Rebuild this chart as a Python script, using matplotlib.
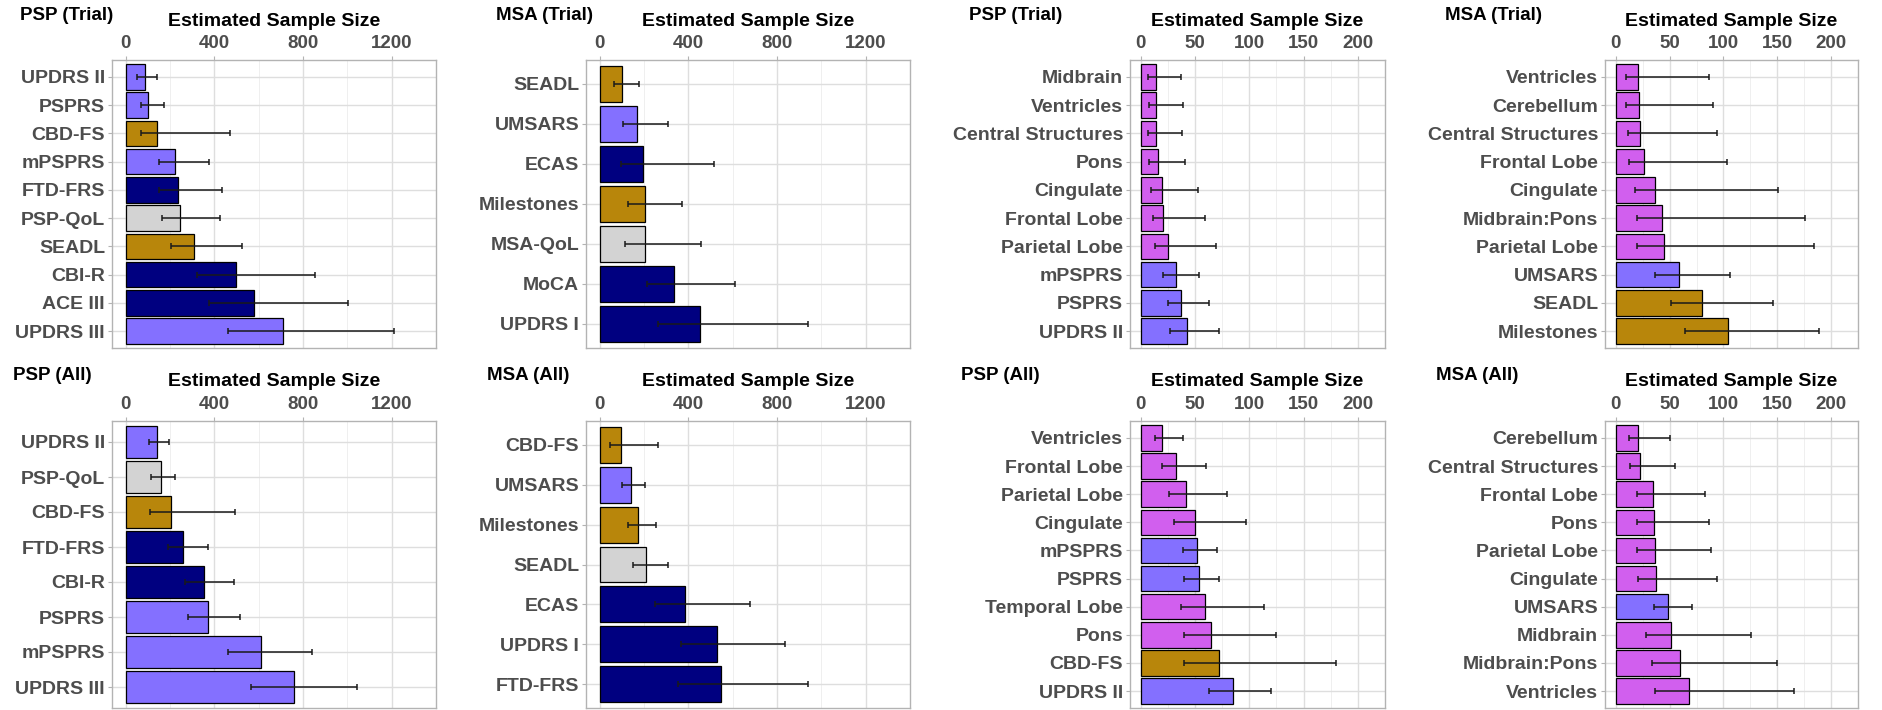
import matplotlib
matplotlib.use("Agg")
import matplotlib.pyplot as plt
import numpy as np

plt.rcParams["font.family"] = ["Liberation Sans", "DejaVu Sans"]
plt.rcParams["font.weight"] = "bold"

W, H = 1883, 710

COLORS = {
    "motor": "#8470FF",
    "cog": "#000080",
    "func": "#B8860B",
    "qol": "#D3D3D3",
    "mri": "#D15FEE",
}

# ---- PSP (Trial), clinical scales ----
psp_trial_labels = ["UPDRS II", "PSPRS", "CBD-FS", "mPSPRS", "FTD-FRS",
                    "PSP-QoL", "SEADL", "CBI-R", "ACE III", "UPDRS III"]
psp_trial_groups = ["motor", "motor", "func", "motor", "cog",
                    "qol", "func", "cog", "cog", "motor"]
psp_trial_n = [85, 100, 141, 220, 237, 246, 308, 496, 579, 708]
psp_trial_lo = [52, 69, 69, 148, 151, 161, 203, 321, 377, 463]
psp_trial_hi = [141, 172, 468, 376, 432, 423, 525, 855, 1003, 1211]

# ---- MSA (Trial), clinical scales ----
msa_trial_labels = ["SEADL", "UMSARS", "ECAS", "Milestones", "MSA-QoL", "MoCA", "UPDRS I"]
msa_trial_groups = ["func", "motor", "cog", "func", "qol", "cog", "cog"]
msa_trial_n = [100, 168, 193, 204, 204, 334, 454]
msa_trial_lo = [65, 106, 97, 127, 114, 213, 263]
msa_trial_hi = [176, 306, 515, 370, 458, 608, 939]

# ---- PSP (Trial), imaging + scales ----
psp_trial_mri_labels = ["Midbrain", "Ventricles", "Central Structures", "Pons", "Cingulate",
                        "Frontal Lobe", "Parietal Lobe", "mPSPRS", "PSPRS", "UPDRS II"]
psp_trial_mri_groups = ["mri", "mri", "mri", "mri", "mri", "mri", "mri",
                        "motor", "motor", "motor"]
psp_trial_mri_n = [14.4, 14.4, 14.4, 15.6, 19.3, 20.5, 24.8, 32.3, 36.6, 42.1]
psp_trial_mri_lo = [6.6, 7.5, 6.6, 7.8, 9.8, 11.0, 13.3, 20.7, 24.8, 26.5]
psp_trial_mri_hi = [36.6, 38.6, 37.8, 40.9, 52.4, 58.8, 69.7, 53.9, 63.1, 71.8]

# ---- MSA (Trial), imaging + scales ----
msa_trial_mri_labels = ["Ventricles", "Cerebellum", "Central Structures", "Frontal Lobe",
                        "Cingulate", "Midbrain:Pons", "Parietal Lobe", "UMSARS",
                        "SEADL", "Milestones"]
msa_trial_mri_groups = ["mri", "mri", "mri", "mri", "mri", "mri", "mri",
                        "motor", "func", "func"]
msa_trial_mri_n = [20.5, 21.7, 22.8, 26.3, 36.4, 43.1, 45.1, 59.0, 80.3, 103.8]
msa_trial_mri_lo = [9.8, 9.8, 11.0, 12.1, 17.6, 19.4, 19.4, 36.4, 51.4, 64.2]
msa_trial_mri_hi = [86.7, 89.9, 94.2, 103.5, 150.6, 176.0, 184.4, 106.0, 146.5, 188.7]

# ---- PSP (All), clinical scales ----
psp_all_labels = ["UPDRS II", "PSP-QoL", "CBD-FS", "FTD-FRS", "CBI-R",
                  "PSPRS", "mPSPRS", "UPDRS III"]
psp_all_groups = ["motor", "qol", "func", "cog", "cog", "motor", "motor", "motor"]
psp_all_n = [142, 158, 204, 258, 351, 370, 610, 759]
psp_all_lo = [106, 115, 111, 192, 265, 282, 459, 566]
psp_all_hi = [197, 220, 494, 370, 489, 517, 842, 1045]

# ---- MSA (All), clinical scales ----
msa_all_labels = ["CBD-FS", "UMSARS", "Milestones", "SEADL", "ECAS", "UPDRS I", "FTD-FRS"]
msa_all_groups = ["func", "motor", "func", "qol", "cog", "cog", "cog"]
msa_all_n = [94, 141, 173, 208, 386, 531, 546]
msa_all_lo = [48, 100, 127, 151, 251, 368, 352]
msa_all_hi = [261, 204, 255, 306, 680, 837, 939]

# ---- PSP (All), imaging + scales ----
psp_all_mri_labels = ["Ventricles", "Frontal Lobe", "Parietal Lobe", "Cingulate", "mPSPRS",
                      "PSPRS", "Temporal Lobe", "Pons", "CBD-FS", "UPDRS II"]
psp_all_mri_groups = ["mri", "mri", "mri", "mri", "motor", "motor", "mri", "mri",
                      "func", "motor"]
psp_all_mri_n = [19.3, 32.3, 41.8, 50.1, 51.3, 53.3, 58.8, 65.1, 72.3, 85.3]
psp_all_mri_lo = [13.3, 19.9, 25.6, 30.8, 38.6, 39.5, 36.6, 39.5, 39.5, 63.1]
psp_all_mri_hi = [38.6, 59.7, 79.8, 96.8, 70.3, 72.3, 113.8, 124.5, 179.5, 119.9]

# ---- MSA (All), imaging + scales ----
msa_all_mri_labels = ["Cerebellum", "Central Structures", "Frontal Lobe", "Pons",
                      "Parietal Lobe", "Cingulate", "UMSARS", "Midbrain",
                      "Midbrain:Pons", "Ventricles"]
msa_all_mri_groups = ["mri", "mri", "mri", "mri", "mri", "mri", "motor", "mri", "mri", "mri"]
msa_all_mri_n = [20.5, 22.5, 34.4, 35.5, 36.4, 37.6, 48.3, 51.4, 59.8, 67.6]
msa_all_mri_lo = [12.1, 13.3, 19.4, 19.4, 19.4, 20.5, 35.3, 27.7, 33.2, 36.4]
msa_all_mri_hi = [50.3, 54.6, 83.2, 86.4, 88.7, 94.2, 70.5, 126.0, 149.4, 165.6]

clin_ticks = [0, 400, 800, 1200]
mri_ticks = [0, 50, 100, 150, 200]


def draw_panel(rect_px, title, title_x, labels, groups, n, lo, hi, ticks, xmax):
    left, top, right, bottom = rect_px
    ax = plt.gcf().add_axes([left / W, 1 - bottom / H, (right - left) / W, (bottom - top) / H])
    k = len(labels)
    y = np.arange(k)[::-1]
    cols = [COLORS[g] for g in groups]
    ax.set_axisbelow(True)
    ax.barh(y, n, height=0.9, color=cols, edgecolor="black", linewidth=0.9, zorder=2)
    n = np.array(n)
    xerr = [n - np.array(lo), np.array(hi) - n]
    ax.errorbar(n, y, xerr=xerr, fmt="none", ecolor="#1a1a1a", elinewidth=1.1,
                capsize=2.5, capthick=1.1, zorder=3)

    pad = 0.05 * xmax
    ax.set_xlim(-pad, xmax + pad)
    ax.set_ylim(-0.6, k - 0.4)
    ax.xaxis.tick_top()
    ax.xaxis.set_label_position("top")
    ax.set_xticks(ticks)
    step = ticks[1] - ticks[0]
    ax.set_xticks([t + step / 2 for t in ticks[:-1]] + [ticks[-1] + step / 2], minor=True)
    ax.set_yticks(y)
    ax.set_yticklabels(labels)
    ax.grid(which="major", color="#DEDEDE", linewidth=1.0)
    ax.grid(which="minor", axis="x", color="#EDEDED", linewidth=0.6)
    ax.tick_params(axis="both", which="major", length=3, width=0.8, color="#B3B3B3",
                   labelcolor="#4D4D4D", pad=2)
    ax.tick_params(axis="y", which="major", labelsize=14)
    ax.tick_params(axis="x", which="major", labelsize=13.5, pad=3)
    ax.tick_params(which="minor", length=0)
    for lab in ax.get_xticklabels() + ax.get_yticklabels():
        lab.set_fontweight("bold")
    for s in ax.spines.values():
        s.set_color("#B3B3B3")
        s.set_linewidth(1.0)

    cx = (left + right) / 2
    plt.gcf().text(cx / W, 1 - (top - 39) / H, "Estimated Sample Size", ha="center",
                   va="center", fontsize=14, fontweight="bold", color="black")
    plt.gcf().text(title_x / W, 1 - (top - 45) / H, title, ha="left", va="center",
                   fontsize=13.5, fontweight="bold", color="black")
    return ax


fig = plt.figure(figsize=(W / 100, H / 100), dpi=100)

row1 = (60, 348)
row2 = (421, 708)
cols_px = [(112, 436), (586, 910), (1130, 1385), (1605, 1858)]

draw_panel((cols_px[0][0], row1[0], cols_px[0][1], row1[1]), "PSP (Trial)", 20,
           psp_trial_labels, psp_trial_groups, psp_trial_n, psp_trial_lo, psp_trial_hi,
           clin_ticks, 1250)
draw_panel((cols_px[1][0], row1[0], cols_px[1][1], row1[1]), "MSA (Trial)", 496,
           msa_trial_labels, msa_trial_groups, msa_trial_n, msa_trial_lo, msa_trial_hi,
           clin_ticks, 1250)
draw_panel((cols_px[2][0], row1[0], cols_px[2][1], row1[1]), "PSP (Trial)", 969,
           psp_trial_mri_labels, psp_trial_mri_groups, psp_trial_mri_n,
           psp_trial_mri_lo, psp_trial_mri_hi, mri_ticks, 200)
draw_panel((cols_px[3][0], row1[0], cols_px[3][1], row1[1]), "MSA (Trial)", 1445,
           msa_trial_mri_labels, msa_trial_mri_groups, msa_trial_mri_n,
           msa_trial_mri_lo, msa_trial_mri_hi, mri_ticks, 200)

draw_panel((cols_px[0][0], row2[0], cols_px[0][1], row2[1]), "PSP (All)", 13,
           psp_all_labels, psp_all_groups, psp_all_n, psp_all_lo, psp_all_hi,
           clin_ticks, 1250)
draw_panel((cols_px[1][0], row2[0], cols_px[1][1], row2[1]), "MSA (All)", 487,
           msa_all_labels, msa_all_groups, msa_all_n, msa_all_lo, msa_all_hi,
           clin_ticks, 1250)
draw_panel((cols_px[2][0], row2[0], cols_px[2][1], row2[1]), "PSP (All)", 961,
           psp_all_mri_labels, psp_all_mri_groups, psp_all_mri_n,
           psp_all_mri_lo, psp_all_mri_hi, mri_ticks, 200)
draw_panel((cols_px[3][0], row2[0], cols_px[3][1], row2[1]), "MSA (All)", 1436,
           msa_all_mri_labels, msa_all_mri_groups, msa_all_mri_n,
           msa_all_mri_lo, msa_all_mri_hi, mri_ticks, 200)

fig.savefig("out.png", dpi=100, facecolor="white")
